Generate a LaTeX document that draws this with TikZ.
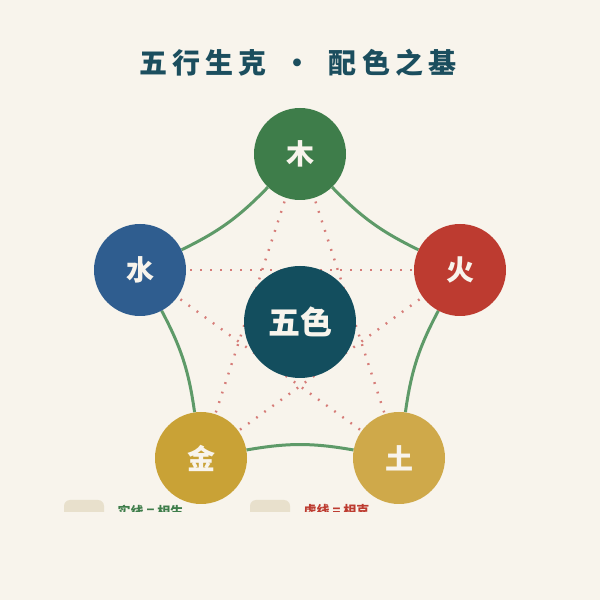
\documentclass[tikz,border=0pt]{standalone}
\usepackage{fontspec}
\usetikzlibrary{backgrounds}
\newfontfamily\cjk{Noto Sans CJK SC}
\definecolor{paper}{HTML}{F8F4EC}
\definecolor{ink}{HTML}{1B4E5E}
\definecolor{wood}{HTML}{3E7D4A}
\definecolor{water}{HTML}{2F5D8F}
\definecolor{fire}{HTML}{BD3B30}
\definecolor{metal}{HTML}{C9A236}
\definecolor{earth}{HTML}{CFA94A}
\definecolor{core}{HTML}{134E5E}
\definecolor{shengline}{HTML}{5E9A68}
\definecolor{keline}{HTML}{D67C78}
\definecolor{keybox}{HTML}{E8E0CC}
\tikzset{element/.style={circle, minimum size=92pt, inner sep=0pt,
    text=paper, font=\cjk\bfseries\fontsize{28}{28}\selectfont}}
\tikzset{sheng/.style={draw=shengline, line width=3pt}}
\tikzset{ke/.style={draw=keline, line width=2.4pt, dash pattern=on 1.8pt off 8.2pt}}
\tikzset{legend/.style={font=\cjk\bfseries\fontsize{13}{13}\selectfont}}

\begin{document}
\begin{tikzpicture}[x=1pt, y=1pt]
    \useasboundingbox (0,0) rectangle (600,600);
    \node[ink, font=\cjk\bfseries\fontsize{28}{28}\selectfont] (title) at (298,537)
        {\addfontfeatures{LetterSpace=18}五行生克\hspace{17pt}·\hspace{17pt}配色之基};
    % the five elements
    \node[element, fill=wood] (mu) at (300,446) {木};
    \node[element, fill=fire] (huo) at (460,330) {火};
    \node[element, fill=earth] (tu) at (399,142) {土};
    \node[element, fill=metal] (jin) at (201,142) {金};
    \node[element, fill=water] (shui) at (140,330) {水};
    \node[circle, minimum size=112pt, inner sep=0pt, fill=core, text=paper,
        font=\cjk\bfseries\fontsize{32}{32}\selectfont] (wuse) at (300,278) {五色};
    % generating cycle and controlling star
    \begin{scope}[on background layer]
    \fill[paper] (0,0) rectangle (600,600);
    \draw[ke] (mu.center) -- (jin.center);
    \draw[ke] (mu.center) -- (tu.center);
    \draw[ke] (shui.center) -- (huo.center);
    \draw[ke] (shui.center) -- (tu.center);
    \draw[ke] (huo.center) -- (jin.center);
    \draw[sheng] (mu) to[bend right=10] (huo);
    \draw[sheng] (huo) to[bend right=10] (tu);
    \draw[sheng] (tu) to[bend right=10] (jin);
    \draw[sheng] (jin) to[bend right=10] (shui);
    \draw[sheng] (shui) to[bend right=10] (mu);
    \end{scope}
    % legend, cut off at the bottom
    \begin{scope}
        \clip (0,88) rectangle (600,600);
        \node[fill=keybox, rounded corners=6pt, minimum width=40pt, minimum height=24pt,
            inner sep=0pt] (keyA) at (84,88) {};
        \node[legend, text=wood, anchor=west] (textA) at (114,89) {实线 = 相生};
        \node[fill=keybox, rounded corners=6pt, minimum width=40pt, minimum height=24pt,
            inner sep=0pt] (keyB) at (270,88) {};
        \node[legend, text=fire, anchor=west] (textB) at (300,89) {虚线 = 相克};
    \end{scope}
\end{tikzpicture}
\end{document}
